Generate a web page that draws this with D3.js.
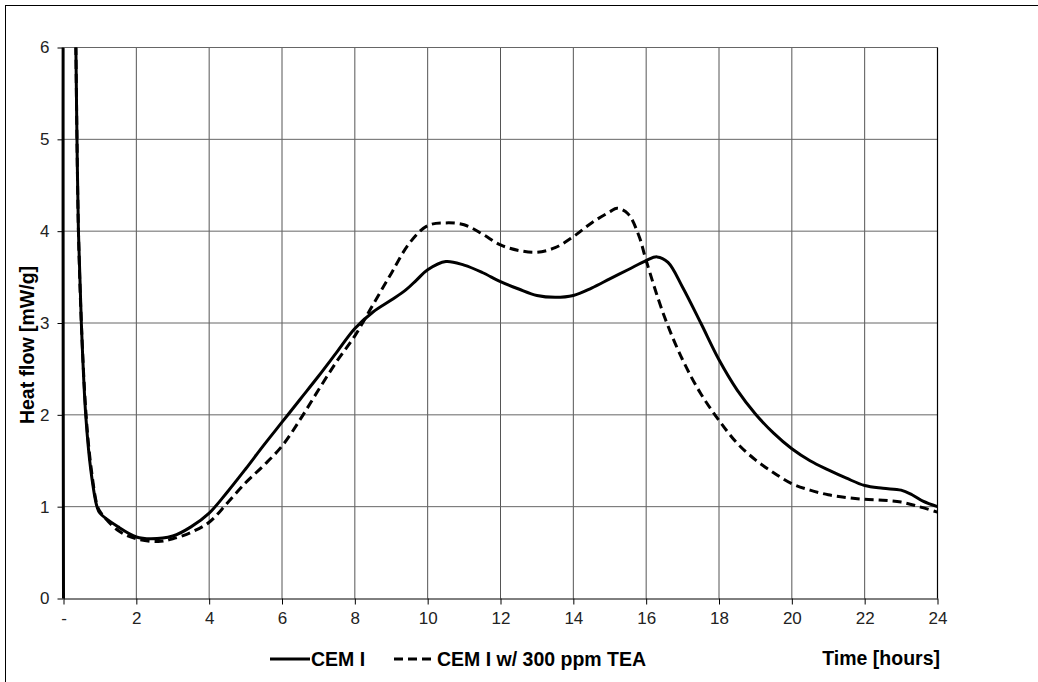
<!DOCTYPE html>
<html>
<head>
<meta charset="utf-8">
<title>Heat flow</title>
<script src="https://cdn.jsdelivr.net/npm/d3@7"></script>
<style>
  body { margin: 0; background: #fff; }
  text { font-family: "Liberation Sans", Arial, sans-serif; }
</style>
</head>
<body>
<script>
// data
var cemTime = [0, 0.05, 0.3, 0.34, 0.37, 0.41, 0.49, 0.61, 0.75, 0.92, 1.0, 1.5, 2, 2.4, 3, 3.5, 4, 4.5, 5, 5.5, 6, 6.5, 7, 7.5, 8, 8.5, 9, 9.4, 9.7, 10, 10.5, 11, 11.5, 12, 12.5, 13, 13.5, 14, 14.5, 15, 15.5, 16, 16.3, 16.6, 17, 17.5, 18, 18.5, 19, 19.5, 20, 20.5, 21, 21.5, 22, 22.5, 23, 23.3, 23.6, 24];
var cemFlow = [0, 9, 7, 6, 5, 4, 3, 2, 1.4, 1.0, 0.93, 0.78, 0.67, 0.65, 0.68, 0.78, 0.93, 1.16, 1.41, 1.67, 1.92, 2.17, 2.42, 2.68, 2.94, 3.12, 3.25, 3.36, 3.47, 3.58, 3.67, 3.63, 3.55, 3.45, 3.37, 3.30, 3.28, 3.30, 3.38, 3.48, 3.58, 3.68, 3.72, 3.66, 3.39, 3.0, 2.6, 2.27, 2.01, 1.8, 1.63, 1.5, 1.40, 1.31, 1.23, 1.20, 1.18, 1.13, 1.06, 1.0];

var teaTime = [0.28, 0.34, 0.37, 0.41, 0.49, 0.62, 0.75, 0.92, 1.0, 1.5, 2, 2.6, 3, 3.5, 4, 4.5, 5, 5.5, 6, 6.5, 7, 7.5, 8, 8.5, 9, 9.5, 10, 10.5, 11, 11.5, 12, 12.5, 13, 13.5, 14, 14.5, 15, 15.2, 15.5, 15.8, 16, 16.5, 17, 17.5, 18, 18.5, 19, 19.5, 20, 20.5, 21, 21.5, 22, 22.5, 23, 23.5, 24];
var teaFlow = [8, 6, 5, 4, 3, 2, 1.45, 1.02, 0.95, 0.74, 0.65, 0.62, 0.65, 0.72, 0.83, 1.04, 1.26, 1.45, 1.66, 1.95, 2.27, 2.58, 2.86, 3.2, 3.54, 3.87, 4.06, 4.09, 4.07, 3.97, 3.85, 3.79, 3.77, 3.82, 3.94, 4.09, 4.21, 4.25, 4.19, 3.95, 3.68, 3.07, 2.6, 2.23, 1.94, 1.69, 1.51, 1.37, 1.25, 1.18, 1.13, 1.10, 1.08, 1.07, 1.05, 1.0, 0.94];

var xTicks = [0, 2, 4, 6, 8, 10, 12, 14, 16, 18, 20, 22, 24];
var yTicks = [0, 1, 2, 3, 4, 5, 6];

var width = 1038, height = 682;
var plotL = 63.5, plotR = 937.5, plotT = 47.5, plotB = 598.5;

var svg = d3.select("body").append("svg")
    .attr("width", width)
    .attr("height", height);

// outer frame
svg.append("rect")
    .attr("x", 5.5).attr("y", 5.5)
    .attr("width", 1040).attr("height", 700)
    .attr("fill", "none").attr("stroke", "#000").attr("stroke-width", 1);

var x = d3.scaleLinear().domain([0, 24]).range([plotL, plotR]);
var y = d3.scaleLinear().domain([0, 6]).range([plotB, plotT]);

// grid
svg.append("g").selectAll("line").data(xTicks.slice(1, -1)).join("line")
    .attr("x1", d => x(d)).attr("x2", d => x(d))
    .attr("y1", plotT).attr("y2", plotB)
    .attr("stroke", "#555").attr("stroke-width", 1);
svg.append("g").selectAll("line").data(yTicks.slice(1)).join("line")
    .attr("x1", plotL).attr("x2", plotR)
    .attr("y1", d => y(d)).attr("y2", d => y(d))
    .attr("stroke", "#666").attr("stroke-width", 1);
svg.append("line")
    .attr("x1", plotR).attr("x2", plotR).attr("y1", plotT).attr("y2", plotB)
    .attr("stroke", "#000").attr("stroke-width", 1.2);

// axes
var xAxis = d3.axisBottom(x).tickValues(xTicks).tickSize(6).tickSizeOuter(0)
    .tickFormat(d => d === 0 ? "-" : d);
var gx = svg.append("g").attr("transform", "translate(0," + plotB + ")").call(xAxis);
gx.attr("font-size", null).attr("font-family", null);
gx.select(".domain").attr("stroke", "#000");
gx.selectAll(".tick line").attr("stroke", "#000");
gx.selectAll(".tick text").attr("font-size", 17).attr("fill", "#222").attr("dy", "0.95em");

var yAxis = d3.axisLeft(y).tickValues(yTicks).tickSize(6).tickSizeOuter(0).tickFormat(d3.format("d"));
var gy = svg.append("g").attr("transform", "translate(" + plotL + ",0)").call(yAxis);
gy.attr("font-size", null).attr("font-family", null);
gy.select(".domain").attr("stroke", "#000");
gy.selectAll(".tick line").attr("stroke", "#000");
gy.selectAll(".tick text").attr("font-size", 17).attr("fill", "#222").attr("x", -14);

// curves
svg.append("clipPath").attr("id", "plot").append("rect")
    .attr("x", plotL - 2).attr("y", plotT).attr("width", plotR - plotL + 4).attr("height", plotB - plotT + 2);

var line = d3.line()
    .x(d => x(d[0])).y(d => y(d[1]))
    .curve(d3.curveCatmullRom.alpha(0.5));

var cem = cemTime.map((t, i) => [t, cemFlow[i]]);
var tea = teaTime.map((t, i) => [t, teaFlow[i]]);

var plot = svg.append("g").attr("clip-path", "url(#plot)");
plot.append("path").datum(tea).attr("d", line)
    .attr("fill", "none").attr("stroke", "#000").attr("stroke-width", 3)
    .attr("stroke-dasharray", "9,5");
plot.append("path").datum(cem).attr("d", line)
    .attr("fill", "none").attr("stroke", "#000").attr("stroke-width", 3);

// axis titles
svg.append("text")
    .attr("transform", "translate(34,345) rotate(-90)")
    .attr("text-anchor", "middle")
    .attr("font-size", 19.5).attr("font-weight", "bold")
    .text("Heat flow [mW/g]");
svg.append("text")
    .attr("x", 940).attr("y", 665)
    .attr("text-anchor", "end")
    .attr("font-size", 19.5).attr("font-weight", "bold")
    .text("Time [hours]");

// legend
var legend = svg.append("g");
legend.append("line").attr("x1", 270).attr("x2", 310).attr("y1", 659).attr("y2", 659)
    .attr("stroke", "#000").attr("stroke-width", 3);
legend.append("text").attr("x", 311).attr("y", 666)
    .attr("font-size", 19.5).attr("font-weight", "bold").text("CEM I");
legend.append("line").attr("x1", 394).attr("x2", 436).attr("y1", 659).attr("y2", 659)
    .attr("stroke", "#000").attr("stroke-width", 3).attr("stroke-dasharray", "9,5");
legend.append("text").attr("x", 437).attr("y", 666)
    .attr("font-size", 19.5).attr("font-weight", "bold").text("CEM I w/ 300 ppm TEA");
</script>
</body>
</html>
